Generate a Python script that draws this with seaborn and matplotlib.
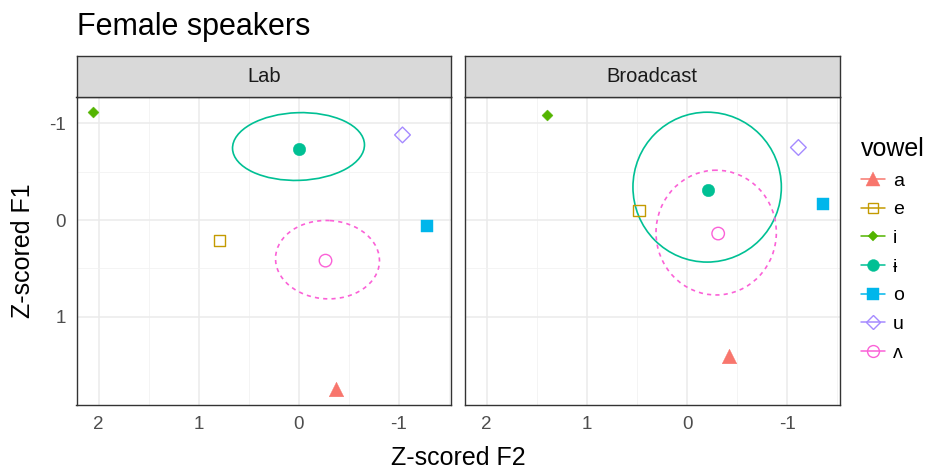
import matplotlib
matplotlib.use("Agg")
import matplotlib.pyplot as plt
import pandas as pd
import seaborn as sns
from matplotlib.lines import Line2D
from matplotlib.patches import Ellipse

# vowel means (z-scored formants) per recording condition
vowels = ["a", "e", "i", "ɨ", "o", "u", "ʌ"]
lab_f2 = [-0.37, 0.79, 2.06, 0.00, -1.28, -1.04, -0.27]
lab_f1 = [1.75, 0.21, -1.12, -0.73, 0.06, -0.88, 0.42]
bc_f2 = [-0.42, 0.48, 1.40, -0.21, -1.36, -1.11, -0.31]
bc_f1 = [1.41, -0.10, -1.09, -0.31, -0.17, -0.75, 0.14]

# ellipses for the two central vowels
ell_vowels = ["ɨ", "ʌ"]
lab_ell_f2 = [0.00, -0.29]
lab_ell_f1 = [-0.76, 0.41]
lab_ell_w = [1.32, 1.04]
lab_ell_h = [0.70, 0.81]
lab_ell_angle = [2, -3]
bc_ell_f2 = [-0.20, -0.29]
bc_ell_f1 = [-0.34, 0.13]
bc_ell_w = [1.48, 1.20]
bc_ell_h = [1.55, 1.29]
bc_ell_angle = [0, 0]

x_ticks = [2, 1, 0, -1]
x_minor = [1.5, 0.5, -0.5, -1.5]
y_ticks = [-1, 0, 1]
y_minor = [-0.5, 0.5]

colors = ["#F8766D", "#C49A00", "#53B400", "#00C094", "#00B6EB", "#A58AFF", "#FB61D7"]
markers = ["^", "s", "D", "o", "s", "D", "o"]
msizes = [10.5, 8.0, 5.6, 9.0, 8.4, 8.0, 9.0]
filled = [True, False, True, True, True, False, False]
ell_styles = {"ɨ": "-", "ʌ": (0, (2.5, 2.5))}

df = pd.concat([
    pd.DataFrame({"vowel": vowels, "F2": lab_f2, "F1": lab_f1, "source": "Lab"}),
    pd.DataFrame({"vowel": vowels, "F2": bc_f2, "F1": bc_f1, "source": "Broadcast"}),
])
ells = {
    "Lab": list(zip(ell_vowels, lab_ell_f2, lab_ell_f1, lab_ell_w, lab_ell_h, lab_ell_angle)),
    "Broadcast": list(zip(ell_vowels, bc_ell_f2, bc_ell_f1, bc_ell_w, bc_ell_h, bc_ell_angle)),
}
col_of = dict(zip(vowels, colors))

sns.set_style("white")
plt.rcParams["font.family"] = ["Liberation Sans", "DejaVu Sans"]
plt.rcParams["axes.unicode_minus"] = False
plt.rcParams["text.color"] = "black"

fig = plt.figure(figsize=(9.38, 4.70), dpi=100)
W, H = 938, 470


def box(x0, y0, x1, y1):
    return [x0 / W, 1 - y1 / H, (x1 - x0) / W, (y1 - y0) / H]


panels = [("Lab", 76.5, 451.0), ("Broadcast", 464.5, 840.0)]
for i, (name, x0, x1) in enumerate(panels):
    ax = fig.add_axes(box(x0, 97.5, x1, 405))
    sub = df[df["source"] == name]

    for v, ex, ey, ew, eh, ang in ells[name]:
        ax.add_patch(Ellipse((ex, ey), ew, eh, angle=ang, fill=False,
                             edgecolor=col_of[v], lw=1.2, ls=ell_styles[v], zorder=2))

    for v, c, m, ms, f in zip(vowels, colors, markers, msizes, filled):
        pt = sub[sub["vowel"] == v]
        if f:
            sns.scatterplot(data=pt, x="F2", y="F1", marker=m, s=ms ** 2, color=c,
                            edgecolor=c, linewidth=0.3, ax=ax, legend=False, zorder=3)
        else:
            sns.scatterplot(data=pt, x="F2", y="F1", marker=m, s=ms ** 2, color=c,
                            facecolor="none", edgecolor=c, linewidth=1.0, ax=ax,
                            legend=False, zorder=3)

    ax.set_xlim(2.22, -1.525)
    ax.set_ylim(1.913, -1.267)
    ax.set_xticks(x_ticks)
    ax.set_xticklabels([str(t) for t in x_ticks])
    ax.set_xticks(x_minor, minor=True)
    ax.set_yticks(y_ticks)
    ax.set_yticklabels([str(t) for t in y_ticks])
    ax.set_yticks(y_minor, minor=True)
    ax.grid(which="major", color="#EBEBEB", lw=1.1)
    ax.grid(which="minor", color="#F2F2F2", lw=0.6)
    ax.set_axisbelow(True)
    ax.tick_params(which="minor", length=0)
    ax.tick_params(which="major", length=4.3, width=0.8, color="#333333",
                   labelcolor="#4D4D4D", labelsize=13.5, pad=3.5)
    for s in ax.spines.values():
        s.set_color("#333333")
        s.set_linewidth(1.0)
    ax.set_xlabel("")
    ax.set_ylabel("")
    if i == 1:
        ax.tick_params(axis="y", left=False, labelleft=False)

    # facet strip
    sax = fig.add_axes(box(x0, 56, x1, 97.5))
    sax.set_facecolor("#D9D9D9")
    sax.set_xticks([])
    sax.set_yticks([])
    for s in sax.spines.values():
        s.set_color("#333333")
        s.set_linewidth(1.0)
    sax.text(0.5, 0.5, name, ha="center", va="center", fontsize=14.5, color="#1A1A1A",
             transform=sax.transAxes)

fig.text(76.5 / W, 1 - 35 / H, "Female speakers", fontsize=22, ha="left", va="baseline")
fig.text(458 / W, 1 - 465 / H, "Z-scored F2", fontsize=18, ha="center", va="baseline")
fig.text(22.5 / W, 1 - 251 / H, "Z-scored F1", fontsize=18, ha="center", va="center",
         rotation=90)

handles = []
for c, m, ms, f in zip(colors, markers, msizes, filled):
    handles.append(Line2D([0], [0], color=c, lw=1.1, marker=m, markersize=ms * 0.95,
                          markerfacecolor=c if f else "none", markeredgecolor=c,
                          markeredgewidth=0.3 if f else 1.0))
fig.legend(handles, vowels, title="vowel", loc="upper left",
           bbox_to_anchor=(861 / W, 1 - 137 / H), frameon=False, fontsize=14,
           title_fontsize=18, handlelength=1.25, handletextpad=0.4, labelspacing=0.57,
           alignment="left", borderaxespad=0, borderpad=0, labelcolor="black")

fig.savefig("out.png", dpi=100)
